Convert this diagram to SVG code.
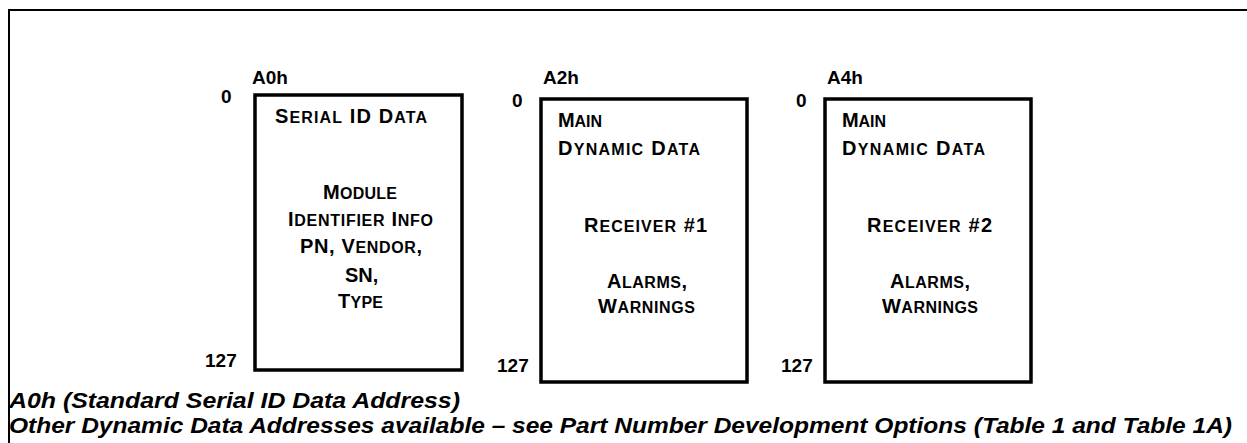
<svg xmlns="http://www.w3.org/2000/svg" width="1247" height="443" viewBox="0 0 1247 443">
<style>
text{font-family:"Liberation Sans",Arial,sans-serif;font-weight:bold;fill:#000}
.lbl{font-size:19px}
.b{font-size:20px}
.s{font-size:16px}
.ft{font-size:22px;font-style:italic}
.box{fill:#fff;stroke:#000;stroke-width:3.5}
.frame{fill:none;stroke:#000;stroke-width:2}
</style>
<rect width="1247" height="443" fill="#fff"/>
<path class="frame" d="M9,443 V10 H1247"/>
<g id="a0h">
<rect class="box" x="255" y="95" width="207" height="275"/>
<text class="lbl" x="252" y="84">A0h</text>
<text class="lbl" x="221" y="103">0</text>
<text class="lbl" x="205" y="367">127</text>
<text x="275" y="123" textLength="152"><tspan class="b">S</tspan><tspan class="s">ERIAL</tspan><tspan class="b">  ID D</tspan><tspan class="s">ATA</tspan></text>
<text x="323" y="199" textLength="74"><tspan class="b">M</tspan><tspan class="s">ODULE</tspan></text>
<text x="288" y="226" textLength="145"><tspan class="b">I</tspan><tspan class="s">DENTIFIER</tspan><tspan class="b">  I</tspan><tspan class="s">NFO</tspan></text>
<text x="300" y="253" textLength="122"><tspan class="b">PN, V</tspan><tspan class="s">ENDOR</tspan><tspan class="b">,</tspan></text>
<text x="345" y="282"><tspan class="b">SN,</tspan></text>
<text x="338" y="308" textLength="45"><tspan class="b">T</tspan><tspan class="s">YPE</tspan></text>
</g>
<g id="a2h">
<rect class="box" x="541" y="99" width="206" height="283"/>
<text class="lbl" x="543" y="84">A2h</text>
<text class="lbl" x="512" y="107">0</text>
<text class="lbl" x="497" y="372">127</text>
<text x="558" y="127" textLength="44"><tspan class="b">M</tspan><tspan class="s">AIN</tspan></text>
<text x="558" y="155" textLength="142"><tspan class="b">D</tspan><tspan class="s">YNAMIC</tspan><tspan class="b">  D</tspan><tspan class="s">ATA</tspan></text>
<text x="584" y="232" textLength="123"><tspan class="b">R</tspan><tspan class="s">ECEIVER</tspan><tspan class="b">  #1</tspan></text>
<text x="607" y="288" textLength="80"><tspan class="b">A</tspan><tspan class="s">LARMS</tspan><tspan class="b">,</tspan></text>
<text x="598" y="313" textLength="97"><tspan class="b">W</tspan><tspan class="s">ARNINGS</tspan></text>
</g>
<g id="a4h">
<rect class="box" x="825" y="99" width="206" height="283"/>
<text class="lbl" x="827" y="84">A4h</text>
<text class="lbl" x="796" y="107">0</text>
<text class="lbl" x="781" y="372">127</text>
<text x="842" y="127" textLength="44"><tspan class="b">M</tspan><tspan class="s">AIN</tspan></text>
<text x="842" y="155" textLength="143"><tspan class="b">D</tspan><tspan class="s">YNAMIC</tspan><tspan class="b">  D</tspan><tspan class="s">ATA</tspan></text>
<text x="867" y="232" textLength="125"><tspan class="b">R</tspan><tspan class="s">ECEIVER</tspan><tspan class="b">  #2</tspan></text>
<text x="890" y="288" textLength="80"><tspan class="b">A</tspan><tspan class="s">LARMS</tspan><tspan class="b">,</tspan></text>
<text x="882" y="313" textLength="96"><tspan class="b">W</tspan><tspan class="s">ARNINGS</tspan></text>
</g>
<g id="connectors"></g>
<g id="footer">
<text class="ft" x="9" y="408" textLength="451" lengthAdjust="spacingAndGlyphs">A0h (Standard Serial ID Data Address)</text>
<text class="ft" x="9" y="433" textLength="1223" lengthAdjust="spacingAndGlyphs">Other Dynamic Data Addresses available – see Part Number Development Options (Table 1 and Table 1A)</text>
</g>
</svg>
